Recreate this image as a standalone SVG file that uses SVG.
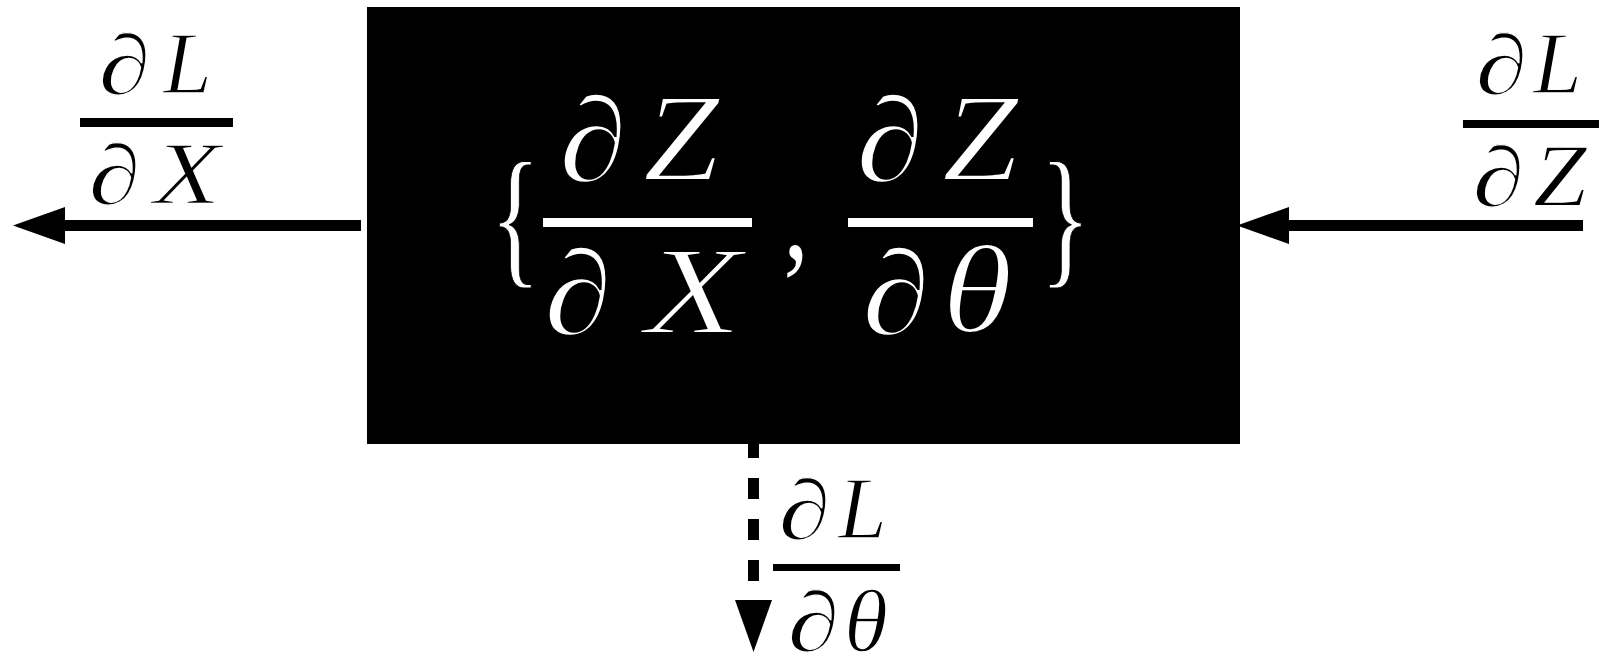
<svg xmlns="http://www.w3.org/2000/svg" width="1599" height="654" viewBox="0 0 1599 654">
<style>
.bpd{font-size:121px}
.bl{font-size:126px}
.spd{font-size:85px}
.sl{font-size:88px}
.w{fill:#fff}
.wt{fill:#fff;stroke:#000;stroke-width:2}
.kt{fill:#000;stroke:#fff;stroke-width:1.4}
.k{fill:#000}
.conn{stroke:#000;stroke-width:11;fill:none}
</style>
<defs>
<marker id="ah" markerUnits="userSpaceOnUse" markerWidth="60" markerHeight="40" viewBox="0 -20 60 40" refX="0" refY="0" orient="auto">
<path d="M0,-18.5 L52,0 L0,18.5 z" fill="#000"/>
</marker>
</defs>
<g id="connectors">
<path class="conn" d="M361,225.5 L65,225.5" marker-end="url(#ah)"/>
<path class="conn" d="M1583,225.5 L1289,225.5" marker-end="url(#ah)"/>
<path class="conn" d="M753.5,437 L753.5,600" stroke-dasharray="21 20" marker-end="url(#ah)"/>
</g>
<g id="block" font-family="Liberation Serif, serif" font-style="italic">
<rect x="367" y="7" width="873" height="437" fill="#000"/>
<text class="w" font-style="normal" font-size="153" stroke="#000" stroke-width="1" transform="translate(490,268) scale(0.69,1)">{</text>
<text class="w" font-style="normal" font-size="153" stroke="#000" stroke-width="1" transform="translate(1040,268) scale(0.69,1)">}</text>
<text class="wt bpd" transform="translate(559,180.5) scale(1.14,1)">∂</text>
<text class="wt bl" transform="translate(643,180) scale(1.09,1)">Z</text>
<rect class="w" x="543" y="218" width="209" height="9"/>
<text class="wt bpd" transform="translate(544,333.5) scale(1.14,1)">∂</text>
<text class="wt bl" transform="translate(645,333) scale(1.26,1)">X</text>
<text class="w" font-style="normal" font-size="126" transform="translate(783.6,258) scale(0.8,1)">,</text>
<text class="wt bpd" transform="translate(856,180.5) scale(1.14,1)">∂</text>
<text class="wt bl" transform="translate(942,180) scale(1.09,1)">Z</text>
<rect class="w" x="848" y="218" width="185" height="9"/>
<text class="wt bpd" transform="translate(862,333.5) scale(1.14,1)">∂</text>
<text class="wt bl" transform="translate(942,332) scale(1.14,1)">θ</text>
</g>
<g id="label-dLdX" font-family="Liberation Serif, serif" font-style="italic">
<text class="kt spd" transform="translate(98.5,94) scale(1.24,1)">∂</text>
<text class="kt sl" transform="translate(163,93) scale(1.0,1)">L</text>
<rect class="k" x="80" y="118" width="153" height="9"/>
<text class="kt spd" transform="translate(88.5,204) scale(1.24,1)">∂</text>
<text class="kt sl" transform="translate(153.6,203) scale(1.25,1)">X</text>
</g>
<g id="label-dLdZ" font-family="Liberation Serif, serif" font-style="italic">
<text class="kt spd" transform="translate(1475.5,94) scale(1.24,1)">∂</text>
<text class="kt sl" transform="translate(1533,93) scale(1.0,1)">L</text>
<rect class="k" x="1463" y="120" width="136" height="8"/>
<text class="kt spd" transform="translate(1472.5,206) scale(1.24,1)">∂</text>
<text class="kt sl" transform="translate(1533,205) scale(1.1,1)">Z</text>
</g>
<g id="label-dLdtheta" font-family="Liberation Serif, serif" font-style="italic">
<text class="kt spd" transform="translate(778.5,539) scale(1.24,1)">∂</text>
<text class="kt sl" transform="translate(838,538) scale(1.0,1)">L</text>
<rect class="k" x="773" y="564" width="127" height="7"/>
<text class="kt spd" transform="translate(787.5,651) scale(1.24,1)">∂</text>
<text class="kt sl" transform="translate(844,651) scale(1.02,1)">θ</text>
</g>
</svg>
